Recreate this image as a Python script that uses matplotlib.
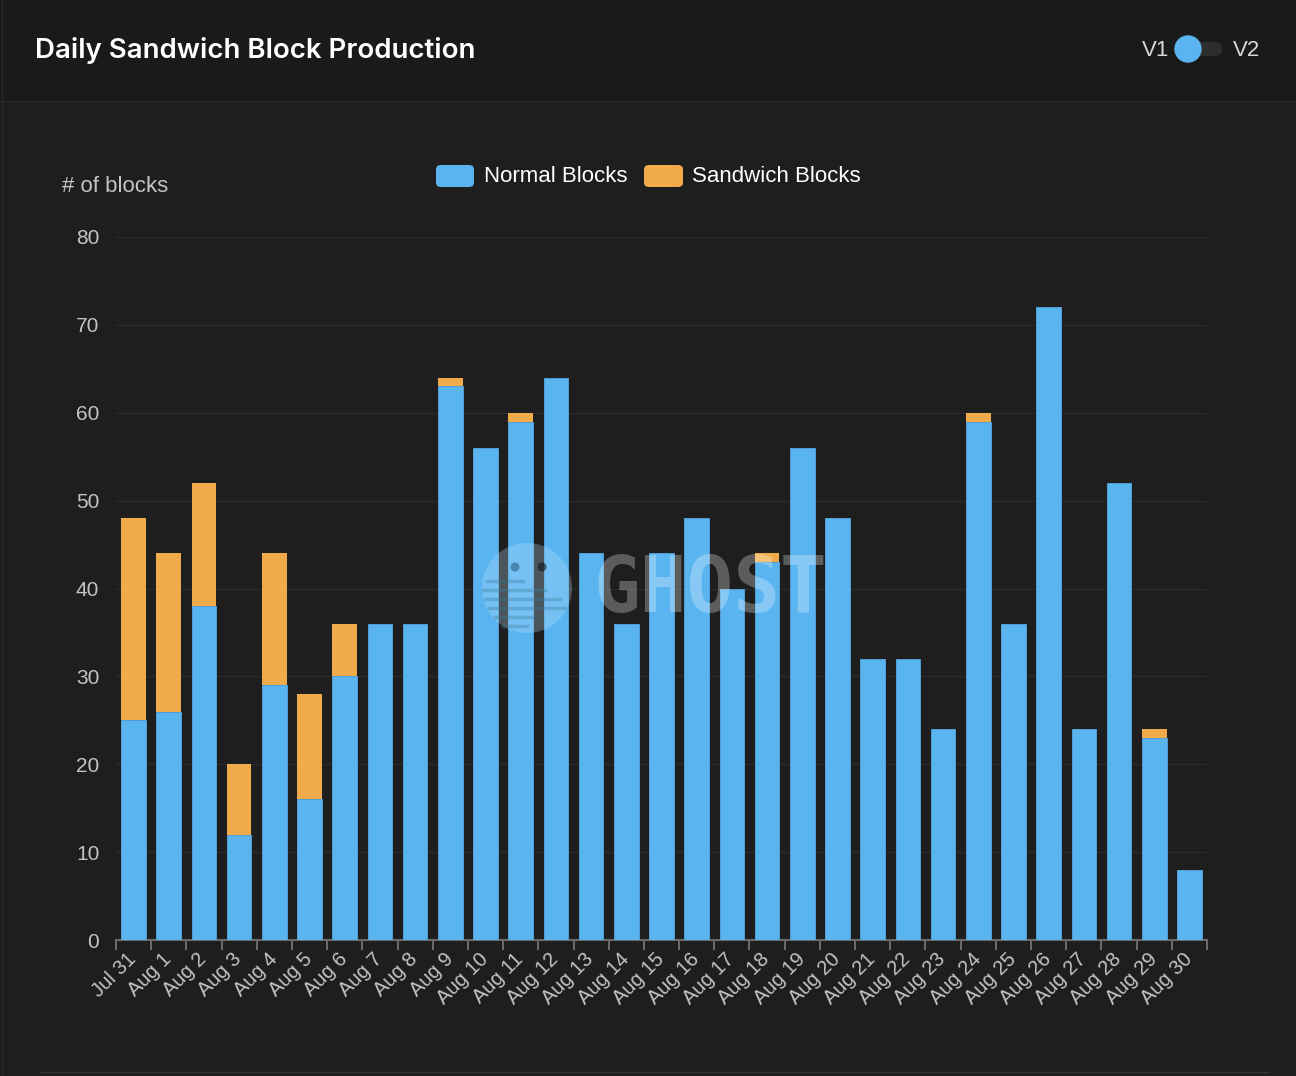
import numpy as np
import matplotlib
matplotlib.use("Agg")
import matplotlib.pyplot as plt
from matplotlib.patches import FancyBboxPatch, Circle, Rectangle
from matplotlib.lines import Line2D
from matplotlib.transforms import ScaledTranslation

# data
days = ["Jul 31", "Aug 1", "Aug 2", "Aug 3", "Aug 4", "Aug 5", "Aug 6", "Aug 7",
        "Aug 8", "Aug 9", "Aug 10", "Aug 11", "Aug 12", "Aug 13", "Aug 14", "Aug 15",
        "Aug 16", "Aug 17", "Aug 18", "Aug 19", "Aug 20", "Aug 21", "Aug 22", "Aug 23",
        "Aug 24", "Aug 25", "Aug 26", "Aug 27", "Aug 28", "Aug 29", "Aug 30"]
normal = [25, 26, 38, 12, 29, 16, 30, 36, 36, 63, 56, 59, 64, 44, 36, 44,
          48, 40, 43, 56, 48, 32, 32, 24, 59, 36, 72, 24, 52, 23, 8]
sandwich = [23, 18, 14, 8, 15, 12, 6, 0, 0, 1, 0, 1, 0, 0, 0, 0,
            0, 0, 1, 0, 0, 0, 0, 0, 1, 0, 0, 0, 0, 1, 0]
yticks = [0, 10, 20, 30, 40, 50, 60, 70, 80]

blue = "#5ab4f0"
orange = "#f2ab4a"
bg = "#1e1e1e"
head_bg = "#1a1a1a"
sans = ["Liberation Sans", "DejaVu Sans"]

W, H = 1296, 1076
fig = plt.figure(figsize=(W / 100, H / 100), dpi=100)
fig.patch.set_facecolor(bg)

def fx(px):
    return px / W

def fy(py):
    return 1 - py / H

# header band
fig.patches.append(Rectangle((0, fy(101)), 1, 101 / H, transform=fig.transFigure,
                             facecolor=head_bg, edgecolor="none", zorder=-1))
fig.lines.append(Line2D([0, 1], [fy(101.5), fy(101.5)], transform=fig.transFigure,
                        color="#272727", lw=1.2))
fig.lines.append(Line2D([fx(1.5), fx(1.5)], [0, 1], transform=fig.transFigure,
                        color="#2a2a2a", lw=1))
fig.lines.append(Line2D([fx(40), fx(1268)], [fy(1072), fy(1072)], transform=fig.transFigure,
                        color="#343434", lw=1))

fig.text(fx(35), fy(51), "Daily Sandwich Block Production", color="white",
         fontsize=19.9, fontweight="semibold", family=["Inter", "DejaVu Sans"],
         va="center", ha="left")

# V1 / V2 toggle
fig.text(fx(1156), fy(50), "V1", color="#d8d8d8", fontsize=16, family=sans,
         va="center", ha="center")
fig.text(fx(1247), fy(50), "V2", color="#d8d8d8", fontsize=16, family=sans,
         va="center", ha="center")
fig.patches.append(FancyBboxPatch((fx(1180), fy(56)), fx(42), 14 / H,
                                  boxstyle="round,pad=0,rounding_size=0.006",
                                  transform=fig.transFigure, facecolor="#2e2e2e",
                                  edgecolor="none", zorder=0))
ax_t = fig.add_axes([fx(1170), fy(67), fx(36), 36 / H], zorder=5)
ax_t.set_xlim(0, 36)
ax_t.set_ylim(0, 36)
ax_t.set_aspect("equal")
ax_t.axis("off")
ax_t.add_patch(Circle((18, 18), 13, color=blue))

# main axes
ax = fig.add_axes([fx(116), fy(940), fx(1207 - 116), (940 - 237) / H])
ax.set_facecolor(bg)
x = np.arange(len(days))
ax.bar(x, normal, width=0.7, color=blue, edgecolor="#529fd4", linewidth=0.7, zorder=3,
       label="Normal Blocks")
ax.bar(x, sandwich, width=0.7, bottom=normal, color=orange, edgecolor="none",
       zorder=3, label="Sandwich Blocks")

ax.set_xlim(-0.5, len(days) - 0.5)
ax.set_ylim(0, 80)
ax.set_yticks(yticks)
ax.set_yticklabels([str(v) for v in yticks], family=sans)
ax.grid(axis="y", color="#2b2b2b", lw=1, zorder=0)
ax.tick_params(axis="y", length=0, pad=12, labelcolor="#c4c4c4", labelsize=15)

ax.set_xticks(x)
ax.set_xticklabels(days, rotation=45, ha="right", rotation_mode="anchor", family=sans)
ax.tick_params(axis="x", which="major", length=0, pad=7, labelcolor="#c4c4c4", labelsize=14.5)
shift = ScaledTranslation(-7 / 100, 0, fig.dpi_scale_trans)
for lab in ax.get_xticklabels():
    lab.set_transform(lab.get_transform() + shift)
ax.set_xticks(np.arange(len(days) + 1) - 0.5, minor=True)
ax.tick_params(axis="x", which="minor", length=7, width=1.5, color="#6a6a6a", direction="out")
for s in ["top", "right", "left"]:
    ax.spines[s].set_visible(False)
ax.spines["bottom"].set_color("#6a6a6a")
ax.spines["bottom"].set_linewidth(1.5)

fig.text(fx(62), fy(186), "# of blocks", color="#c4c4c4", fontsize=16, family=sans,
         va="center", ha="left")

# legend
fig.patches.append(FancyBboxPatch((fx(436), fy(187)), fx(38), 22 / H,
                                  boxstyle="round,pad=0,rounding_size=0.004",
                                  transform=fig.transFigure, facecolor=blue, edgecolor="none"))
fig.text(fx(484), fy(176), "Normal Blocks", color="white", fontsize=16, family=sans,
         va="center", ha="left")
fig.patches.append(FancyBboxPatch((fx(644), fy(187)), fx(39), 22 / H,
                                  boxstyle="round,pad=0,rounding_size=0.004",
                                  transform=fig.transFigure, facecolor=orange, edgecolor="none"))
fig.text(fx(692), fy(176), "Sandwich Blocks", color="white", fontsize=16, family=sans,
         va="center", ha="left")

# GHOST watermark
ax_w = fig.add_axes([fx(475), fy(645), fx(110), 110 / H], zorder=4)
ax_w.set_xlim(0, 110)
ax_w.set_ylim(0, 110)
ax_w.set_aspect("equal")
ax_w.axis("off")
ax_w.add_patch(Circle((52, 57), 45, color="#bfe6ff", alpha=0.28, lw=0))
ax_w.add_patch(Circle((40, 78), 4.5, color="#1e4a70", alpha=0.5, lw=0))
ax_w.add_patch(Circle((67, 78), 4.5, color="#101820", alpha=0.6, lw=0))
for yy, x0, x1 in [(64, 12, 48), (55, 8, 70), (46, 10, 85), (37, 14, 90), (28, 20, 60), (19, 28, 52)]:
    ax_w.plot([x0, x1], [yy, yy], color="#3a7a9a", alpha=0.35, lw=2.5)
fig.text(fx(594), fy(590), "GHOST", color="white", alpha=0.28, fontsize=56,
         fontweight="bold", family="DejaVu Sans Mono", va="center", ha="left", zorder=6)

fig.savefig("out.png", dpi=100, facecolor=fig.get_facecolor())
